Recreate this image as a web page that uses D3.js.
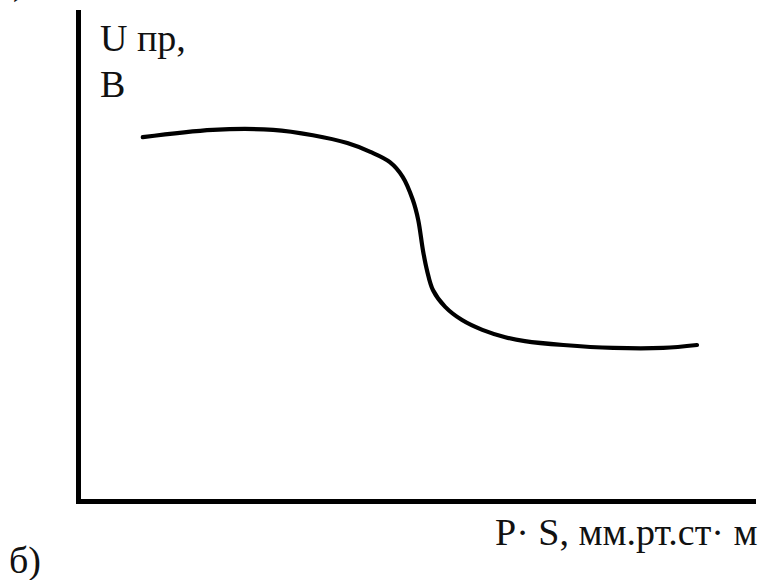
<!DOCTYPE html>
<html>
<head>
<meta charset="utf-8">
<script src="https://cdn.jsdelivr.net/npm/d3@7"></script>
<style>
  body { margin: 0; background: #fff; }
</style>
</head>
<body>
<script>
// relative units, no ticks on the original
var ps = [9.6, 20.0, 28.9, 34.8, 39.9, 43.3, 46.2, 48.1, 49.6, 50.4, 51.1, 51.7, 52.6, 54.4, 56.9, 59.9, 63.3, 66.2, 71.9, 79.3, 86.7, 91.7];
var upr = [74.4, 75.9, 75.9, 74.8, 73.2, 71.4, 69.3, 66.3, 61.6, 57.5, 51.3, 47.2, 43.1, 39.7, 37.0, 35.0, 33.5, 32.7, 31.9, 31.3, 31.3, 31.9];

var width = 766,
    height = 580,
    font = "'Liberation Serif', 'Times New Roman', serif";

var x = d3.scaleLinear().domain([0, 100]).range([78, 753]),
    y = d3.scaleLinear().domain([0, 100]).range([501, 12]);

var svg = d3.select("body").append("svg")
    .attr("width", width)
    .attr("height", height);

// axes without ticks, just the bare lines
svg.append("g")
    .attr("class", "axis x")
    .attr("transform", "translate(0," + y(0) + ")")
    .call(d3.axisBottom(x).ticks(0).tickSizeOuter(0));

svg.append("g")
    .attr("class", "axis y")
    .attr("transform", "translate(" + x(0) + ",0)")
    .call(d3.axisLeft(y).ticks(0).tickSizeOuter(0));

svg.selectAll(".axis .domain")
    .attr("stroke", "#000")
    .attr("stroke-width", 5)
    .attr("stroke-linecap", "square");

var line = d3.line()
    .x(function(d, i) { return x(ps[i]); })
    .y(function(d) { return y(d); })
    .curve(d3.curveCatmullRom.alpha(0.5));

svg.append("path")
    .datum(upr)
    .attr("d", line)
    .attr("fill", "none")
    .attr("stroke", "#000")
    .attr("stroke-width", 4.2)
    .attr("stroke-linecap", "round");

// labels
var labels = [
  {t: "U пр,", x: 100, y: 51},
  {t: "В", x: 100, y: 97},
  {t: "P· S, мм.рт.ст· м", x: 495, y: 545},
  {t: "б)", x: 9, y: 573},
  {t: ")", x: 13, y: -6}
];

svg.selectAll(".lbl")
    .data(labels)
  .enter().append("text")
    .attr("class", "lbl")
    .attr("x", function(d) { return d.x; })
    .attr("y", function(d) { return d.y; })
    .attr("font-family", font)
    .attr("font-size", 38)
    .attr("fill", "#111")
    .text(function(d) { return d.t; });
</script>
</body>
</html>
